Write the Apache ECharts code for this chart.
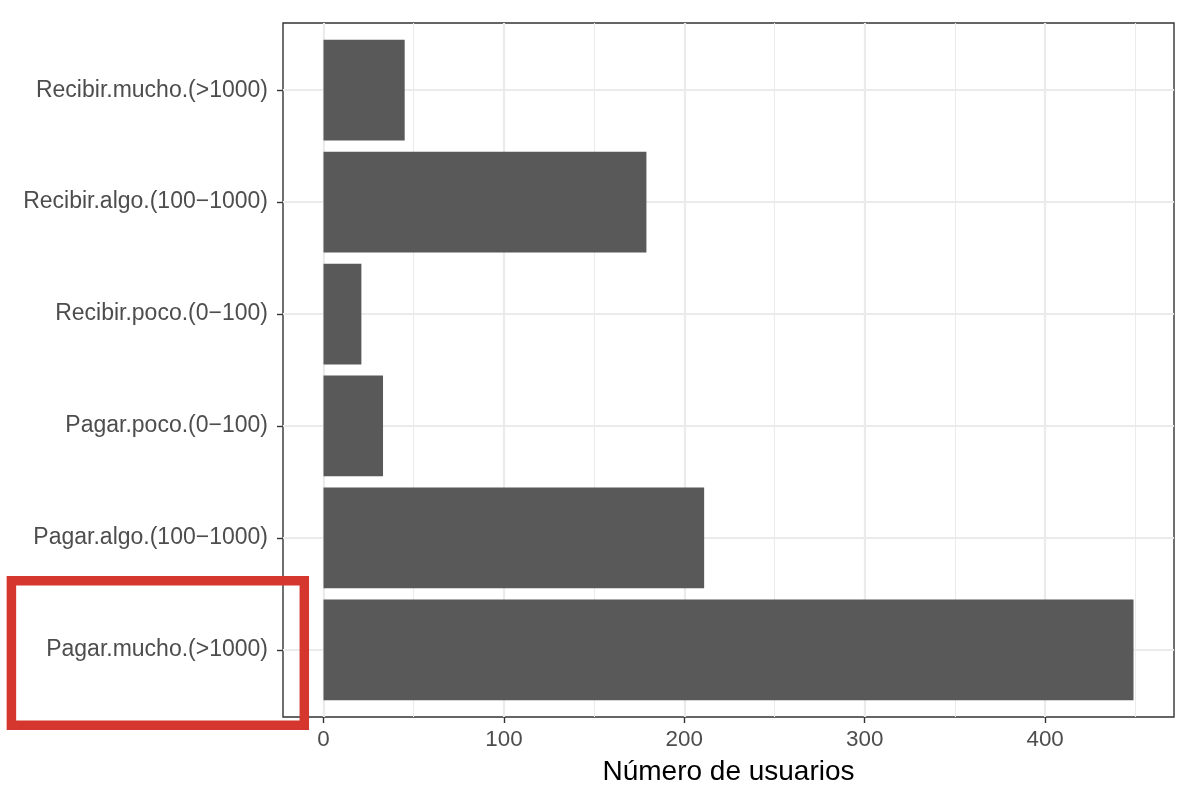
<!DOCTYPE html>
<html>
<head>
<meta charset="utf-8">
<script src="https://cdn.jsdelivr.net/npm/echarts@6/dist/echarts.min.js"></script>
<style>html,body{margin:0;padding:0;background:#fff;}#chart{width:1192px;height:802px;}</style>
</head>
<body>
<div id="chart"></div>
<script>
// Categories listed bottom to top
const categories = ['Pagar.mucho.(>1000)', 'Pagar.algo.(100\u22121000)', 'Pagar.poco.(0\u2212100)', 'Recibir.poco.(0\u2212100)', 'Recibir.algo.(100\u22121000)', 'Recibir.mucho.(>1000)'];
const usuarios = [449, 211, 33, 21, 179, 45];
const xTickValues = [0, 100, 200, 300, 400];
const xTitle = 'Número de usuarios';

const FONT = '"Liberation Sans", Arial, Helvetica, sans-serif';
const panel = {left: 283, top: 23, width: 891, height: 694};
const maxV = Math.max(...usuarios);
const xMin = -0.05 * maxV, xMax = maxV * 1.05;
const s = panel.width / (xMax - xMin);
const u = panel.height / (categories.length + 0.2);
const x0 = panel.left + (-xMin) * s;
const majorMax = xTickValues[xTickValues.length - 1];
const minorMax = 450;

const chart = echarts.init(document.getElementById('chart'), null, {renderer: 'canvas'});
const hidden = {show: false};
const option = {
  backgroundColor: '#ffffff',
  animation: false,
  grid: [
    // 0: minor vertical gridlines
    {left: x0, top: panel.top, width: minorMax * s, height: panel.height},
    // 1: major vertical gridlines + x ticks/labels
    {left: x0, top: panel.top, width: majorMax * s, height: panel.height},
    // 2: horizontal gridlines + y labels
    {left: panel.left, top: panel.top + 0.6 * u, width: panel.width, height: (categories.length - 1) * u},
    // 3: bars
    {left: panel.left, top: panel.top + 0.1 * u, width: panel.width, height: categories.length * u},
    // 4: panel border
    {left: panel.left, top: panel.top, width: panel.width, height: panel.height, show: true, borderColor: '#333333', borderWidth: 1.4, backgroundColor: 'transparent'}
  ],
  xAxis: [
    {gridIndex: 0, type: 'value', min: 0, max: minorMax, interval: 50,
      axisLine: hidden, axisTick: hidden, axisLabel: hidden,
      splitLine: {show: true, lineStyle: {color: '#ebebeb', width: 1.1}}
    },
    {gridIndex: 1, type: 'value', min: 0, max: majorMax, interval: 100,
      axisLine: {show: false, onZero: false},
      axisTick: {show: true, length: 6, inside: false, lineStyle: {color: '#333333', width: 1.4}},
      axisLabel: {show: true, margin: 12, fontSize: 22.4, color: '#4d4d4d', fontFamily: FONT},
      splitLine: {show: true, lineStyle: {color: '#ebebeb', width: 2.2}}
    },
    {gridIndex: 2, type: 'value', min: xMin, max: xMax, show: false, splitLine: hidden, axisLine: {onZero: false}},
    {gridIndex: 3, type: 'value', min: xMin, max: xMax, show: false, splitLine: hidden},
    {gridIndex: 4, type: 'value', min: xMin, max: xMax, show: false, splitLine: hidden}
  ],
  yAxis: [
    {gridIndex: 0, type: 'value', min: 0, max: 1, show: false, splitLine: hidden},
    {gridIndex: 1, type: 'value', min: 0, max: 1, show: false, splitLine: hidden},
    {gridIndex: 2, type: 'value', min: 1, max: categories.length, interval: 1,
      axisLine: {show: false, onZero: false},
      axisTick: {show: true, length: 6, lineStyle: {color: '#333333', width: 1.4}},
      axisLabel: {show: true, margin: 15, fontSize: 23, color: '#4d4d4d', fontFamily: FONT,
        formatter: v => categories[Math.round(v) - 1] || ''},
      splitLine: {show: true, lineStyle: {color: '#ebebeb', width: 2.2}}
    },
    {gridIndex: 3, type: 'category', data: categories, show: false, splitLine: hidden, axisLine: {onZero: false}},
    {gridIndex: 4, type: 'value', min: 0, max: 1, show: false, splitLine: hidden}
  ],
  series: [
    {type: 'bar', xAxisIndex: 3, yAxisIndex: 3, data: usuarios, barCategoryGap: '10%',
      itemStyle: {color: '#595959'}, silent: true}
  ],
  graphic: [
    {type: 'text', x: panel.left + panel.width / 2, y: 772, z: 10,
      style: {text: xTitle, fill: '#000000', font: '28px ' + FONT, textAlign: 'center', textVerticalAlign: 'middle'}},
    {type: 'rect', z: 100, shape: {x: 11.4, y: 580.7, width: 292.9, height: 144.6},
      style: {fill: 'none', stroke: '#d5372e', lineWidth: 9.5}}
  ]
};
chart.setOption(option);
</script>
</body>
</html>
